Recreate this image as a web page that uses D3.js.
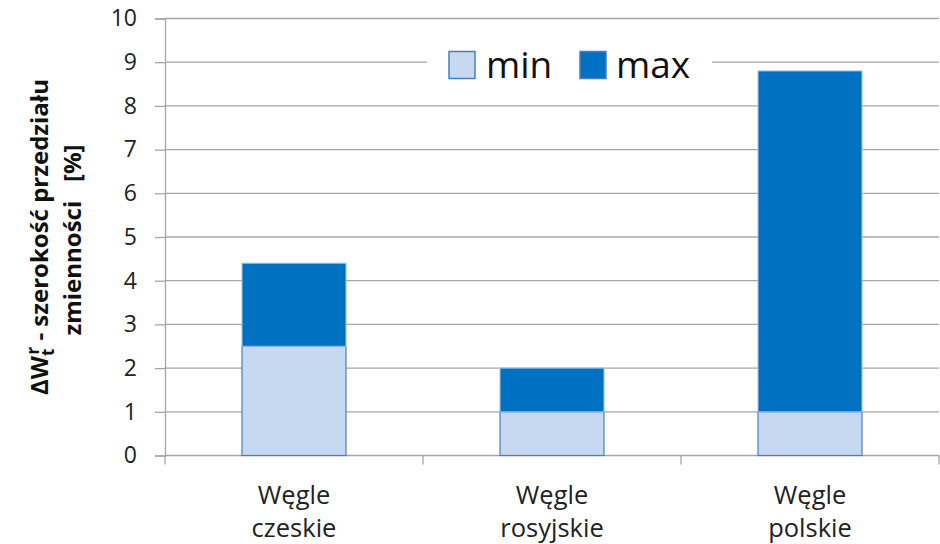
<!DOCTYPE html>
<html>
<head>
<meta charset="utf-8">
<script src="https://cdn.jsdelivr.net/npm/d3@7"></script>
<style>
  html, body { margin: 0; padding: 0; background: #fff; }
  svg { display: block; font-family: "Open Sans", sans-serif; }
</style>
</head>
<body>
<svg id="chart" width="940" height="544"></svg>
<script>
// Range width of the variability interval for three coal groups
const categories = [["Węgle", "czeskie"], ["Węgle", "rosyjskie"], ["Węgle", "polskie"]];
const minValues = [2.5, 1.0, 1.0];
const maxValues = [4.4, 2.0, 8.8];
const yTicks = [0, 1, 2, 3, 4, 5, 6, 7, 8, 9, 10];
const seriesNames = ["min", "max"];
const seriesColors = ["#c6d9f0", "#0070c0"];
const seriesStrokes = ["#4a7ebb", "#9dc3e6"];

const svg = d3.select("#chart");
const margin = { left: 165, right: 1, top: 18.5, bottom: 88.5 };
const W = 940, H = 544;
const FONT = "'Open Sans', sans-serif";

const x = d3.scaleBand()
  .domain(d3.range(categories.length))
  .range([margin.left, W - margin.right])
  .padding(0);
const y = d3.scaleLinear().domain([0, 10]).range([H - margin.bottom, margin.top]);

// horizontal gridlines
svg.append("g")
  .selectAll("line")
  .data(yTicks.filter(t => t > 0))
  .join("line")
  .attr("x1", margin.left).attr("x2", W - margin.right)
  .attr("y1", d => y(d)).attr("y2", d => y(d))
  .attr("stroke", "#a6a6a6").attr("stroke-width", 1.3);

// y axis
const yAxis = svg.append("g")
  .attr("transform", `translate(${margin.left},0)`)
  .call(d3.axisLeft(y).tickValues(yTicks).tickSize(10).tickPadding(18));
yAxis.select(".domain").attr("stroke", "#a6a6a6").attr("stroke-width", 1.3);
yAxis.selectAll(".tick line").attr("stroke", "#a6a6a6").attr("stroke-width", 1.3);
yAxis.selectAll(".tick text")
  .attr("font-size", 23).attr("fill", "#222")
  .attr("font-family", FONT);

// x axis with ticks between categories
const xAxisG = svg.append("g").attr("transform", `translate(0,${y(0)})`);
xAxisG.append("line")
  .attr("x1", margin.left).attr("x2", W - margin.right)
  .attr("y1", 0).attr("y2", 0)
  .attr("stroke", "#a6a6a6").attr("stroke-width", 1.3);
const bounds = d3.range(categories.length).map(i => x(i)).concat([x(categories.length - 1) + x.bandwidth()]);
xAxisG.selectAll("line.tk")
  .data(bounds)
  .join("line").attr("class", "tk")
  .attr("x1", d => d).attr("x2", d => d)
  .attr("y1", 0).attr("y2", 9)
  .attr("stroke", "#a6a6a6").attr("stroke-width", 1.3);
xAxisG.selectAll("text.cat")
  .data(categories)
  .join("text").attr("class", "cat")
  .attr("text-anchor", "middle")
  .attr("font-size", 25.5).attr("fill", "#222")
  .each(function(d, i) {
    const t = d3.select(this);
    d.forEach((line, k) => {
      t.append("tspan")
        .attr("x", x(i) + x.bandwidth() / 2)
        .attr("y", 48 + k * 33)
        .text(line);
    });
  });

// stacked bars: min segment from 0, max segment from min up to max
const barW = x.bandwidth() * 0.403;
const bars = svg.append("g");
categories.forEach((c, i) => {
  const cx = x(i) + x.bandwidth() / 2;
  bars.append("rect")
    .attr("x", cx - barW / 2).attr("width", barW)
    .attr("y", y(minValues[i])).attr("height", y(0) - y(minValues[i]))
    .attr("fill", seriesColors[0]).attr("stroke", seriesStrokes[0]).attr("stroke-width", 1.2);
  bars.append("rect")
    .attr("x", cx - barW / 2).attr("width", barW)
    .attr("y", y(maxValues[i])).attr("height", y(minValues[i]) - y(maxValues[i]))
    .attr("fill", seriesColors[1]).attr("stroke", seriesStrokes[1]).attr("stroke-width", 1);
});

// legend
const legend = svg.append("g");
legend.append("rect")
  .attr("x", 427).attr("y", 42).attr("width", 285).attr("height", 44)
  .attr("fill", "#fff");
const legendItems = [{ x: 449, tx: 486 }, { x: 580, tx: 616 }];
seriesNames.forEach((name, i) => {
  legend.append("rect")
    .attr("x", legendItems[i].x).attr("y", 51.5).attr("width", 26).attr("height", 27)
    .attr("fill", seriesColors[i]).attr("stroke", "#4a7ebb").attr("stroke-width", 1.5);
  legend.append("text")
    .attr("x", legendItems[i].tx).attr("y", 78)
    .attr("font-size", 37).attr("fill", "#111")
    .text(name);
});

// y axis title
const title = svg.append("text")
  .attr("transform", "rotate(-90)")
  .attr("text-anchor", "middle")
  .attr("font-weight", "bold").attr("font-size", 24).attr("fill", "#111")
  .style("white-space", "pre");
const line1 = title.append("tspan").attr("x", -237).attr("y", 48);
line1.append("tspan").text("ΔW");
line1.append("tspan").attr("font-size", 17).attr("dy", 6).text("t");
line1.append("tspan").attr("font-size", 17).attr("dy", -15).attr("dx", -6).text("r");
line1.append("tspan").attr("dy", 9).text(" - szerokość przedziału");
title.append("tspan").attr("x", -240).attr("y", 81).text("zmienności\u00a0\u00a0 [%]");
</script>
</body>
</html>
